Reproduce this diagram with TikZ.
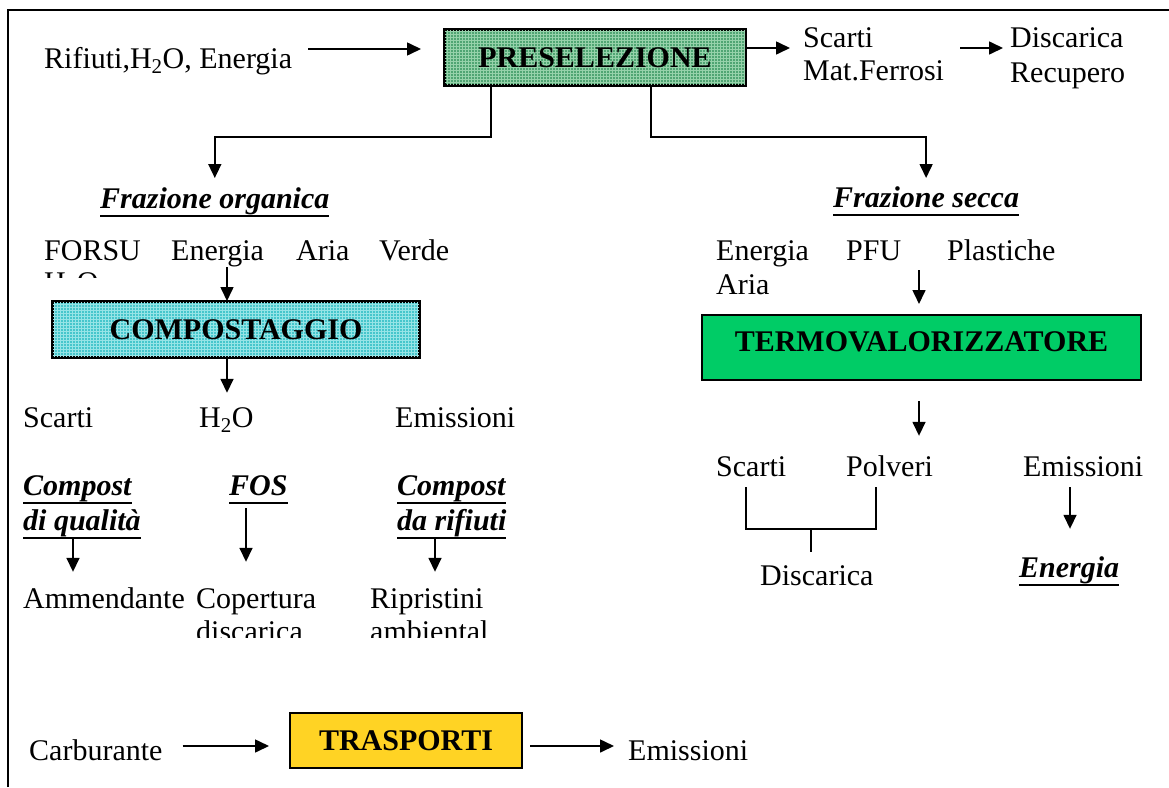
\documentclass[tikz,border=0pt]{standalone}
\usepackage{fontspec}
\setmainfont{Liberation Serif}
\newsavebox{\myulbox}
\newcommand{\myul}[1]{\sbox{\myulbox}{#1}\rlap{\rule[-9pt]{\wd\myulbox}{2pt}}\usebox{\myulbox}}
\usetikzlibrary{arrows.meta,patterns}
\definecolor{presel}{RGB}{80,165,115}
\definecolor{preselgrid}{RGB}{150,210,170}
\definecolor{compc}{RGB}{70,198,204}
\definecolor{compgrid}{RGB}{150,228,230}
\definecolor{termoc}{RGB}{0,204,102}
\definecolor{trasc}{RGB}{255,211,36}
\begin{document}
\begin{tikzpicture}[x=1pt,y=-1pt,
  every node/.style={font=\fontsize{30}{36}\selectfont},
  txt/.style={anchor=base west, inner sep=0pt, text height=21pt, text depth=7pt},
  bi/.style={txt, font=\fontsize{30}{36}\selectfont\bfseries\itshape},
  procbox/.style={draw=black, line width=2pt, inner sep=0pt, font=\fontsize{30}{36}\selectfont\bfseries},
  arr/.style={line width=1.6pt, -{Triangle[length=14pt,width=13pt]}},
  conn/.style={line width=1.6pt}]
\useasboundingbox (0,0) rectangle (1169,787);
% frame
\draw[line width=2.2pt] (8,787) -- (8,10) -- (1169,10);

% ---- top row
\node[txt] (in1) at (44,68) {Rifiuti,H\textsubscript{2}O, Energia};
\node[procbox, fill=presel, minimum width=300pt, minimum height=55pt,
      postaction={pattern=grid, pattern color=preselgrid}] (pre) at (595,57.5) {};
\node[font=\fontsize{30}{36}\selectfont\bfseries, inner sep=0pt] (pret) at (pre.center) {PRESELEZIONE};
\draw[line width=2pt] (pre.north west) rectangle (pre.south east);
\node[txt] (sc1) at (803,47) {Scarti};
\node[txt] (mf) at (803,80) {Mat.Ferrosi};
\node[txt] (dis1) at (1010,47) {Discarica};
\node[txt] (rec) at (1010,82) {Recupero};
\coordinate (a1) at (0,49);
\coordinate (a2) at (0,48);
\draw[arr, shorten <=16pt, shorten >=23pt] (in1.east |- a1) -- (pre.west |- a1);
\draw[arr, shorten >=13pt] (pre.east |- a2) -- (sc1.west |- a2);
\draw[arr, shorten <=16pt, shorten >=7pt] (mf.east |- a2) -- (dis1.west |- a2);

% ---- branches
\node[bi] (fo) at (100,208) {\myul{Frazione organica}};
\node[bi] (fs) at (833,207) {\myul{Frazione secca}};
\coordinate (bl) at (491,137);
\coordinate (br) at (651,137);
\coordinate (ftop) at (0,178);
\draw[arr] (pre.south -| bl) -- (bl) -| (fo.north |- ftop);
\draw[arr] (pre.south -| br) -- (br) -| (fs.north |- ftop);

% ---- left: compostaggio
\node[txt] (forsu) at (44,260) {FORSU};
\node[txt] (en1) at (171,260) {Energia};
\node[txt] (aria1) at (296,260) {Aria};
\node[txt] (verde) at (379,260) {Verde};
\begin{scope}
  \clip (40,250) rectangle (130,277);
  \node[txt] (h2o0) at (44,292) {H\textsubscript{2}O};
\end{scope}
\node[procbox, fill=compc, minimum width=366pt, minimum height=55pt,
      postaction={pattern=grid, pattern color=compgrid}] (comp) at (236,329.5) {};
\node[font=\fontsize{30}{36}\selectfont\bfseries, inner sep=0pt] (compt) at (comp.center) {COMPOSTAGGIO};
\draw[line width=2pt] (comp.north west) rectangle (comp.south east);
\coordinate (cx) at (227,0);
\draw[arr] (en1.south -| cx) -- (comp.north -| cx);
\node[txt] (sc2) at (23,427) {Scarti};
\node[txt] (h2o2) at (199,427) {H\textsubscript{2}O};
\node[txt] (em1) at (395,427) {Emissioni};
\draw[arr, shorten >=13pt] (comp.south -| cx) -- (h2o2.north -| cx);

\node[bi] (cq1) at (23,495) {\myul{Compost}};
\node[bi] (cq2) at (23,530) {\myul{di qualità}};
\node[bi] (fos) at (229,495) {\myul{FOS}};
\node[bi] (cr1) at (397,495) {\myul{Compost}};
\node[bi] (cr2) at (397,530) {\myul{da rifiuti}};
\node[txt] (amm) at (23,608) {Ammendante};
\node[txt] (cop) at (196,608) {Copertura};
\node[txt] (rip) at (370,608) {Ripristini};
\begin{scope}
  \clip (180,600) rectangle (520,637);
  \node[txt] (disc2) at (196,641) {discarica};
  \node[txt] (amb) at (370,641) {ambiental};
\end{scope}
\coordinate (qx) at (73,0);
\coordinate (fx) at (246,0);
\coordinate (rx) at (435,0);
\draw[arr, shorten <=2pt, shorten >=15pt] (cq2.south -| qx) -- (amm.north -| qx);
\draw[arr, shorten <=6pt, shorten >=25pt] (fos.south -| fx) -- (cop.north -| fx);
\draw[arr, shorten <=2pt, shorten >=15pt] (cr2.south -| rx) -- (rip.north -| rx);

% ---- right: termovalorizzatore
\node[txt] (en2) at (716,260) {Energia};
\node[txt] (pfu) at (846,260) {PFU};
\node[txt] (plast) at (947,260) {Plastiche};
\node[txt] (aria2) at (716,294) {Aria};
\node[procbox, fill=termoc, minimum width=439pt, minimum height=65pt, text depth=11pt] (termo) at (921.5,347.5) {TERMOVALORIZZATORE\hspace{20pt}};
\coordinate (tx) at (919,0);
\draw[arr, shorten <=3pt, shorten >=10pt] (pfu.south -| tx) -- (termo.north -| tx);
\node[txt] (sc3) at (716,476) {Scarti};
\node[txt] (pol) at (846,476) {Polveri};
\node[txt] (em2) at (1023,476) {Emissioni};
\draw[arr, shorten <=20pt, shorten >=19pt] (termo.south -| tx) -- (pol.north -| tx);
\coordinate (bk1) at (746,529);
\coordinate (bk2) at (876,529);
\coordinate (bkm) at (811,529);
\node[txt] (disc3) at (760,585) {Discarica};
\draw[conn, shorten <=4pt, shorten >=4pt] (sc3.south -| bk1) -- (bk1) -- (bk2) -- (pol.south -| bk2);
\draw[conn, shorten >=12pt] (bkm) -- (disc3.north -| bkm);
\node[bi] (ene) at (1019,577) {\myul{Energia}};
\coordinate (ex) at (1070,0);
\draw[arr, shorten <=4pt, shorten >=27pt] (em2.south -| ex) -- (ene.north -| ex);

% ---- bottom: trasporti
\node[txt] (carb) at (29,760) {Carburante};
\node[procbox, fill=trasc, minimum width=232pt, minimum height=55pt] (tras) at (406,740.5) {TRASPORTI};
\node[txt] (em3) at (628,760) {Emissioni};
\coordinate (t) at (0,746);
\draw[arr, shorten <=20pt, shorten >=20pt] (carb.east |- t) -- (tras.west |- t);
\draw[arr, shorten <=7pt, shorten >=14pt] (tras.east |- t) -- (em3.west |- t);
\end{tikzpicture}
\end{document}
